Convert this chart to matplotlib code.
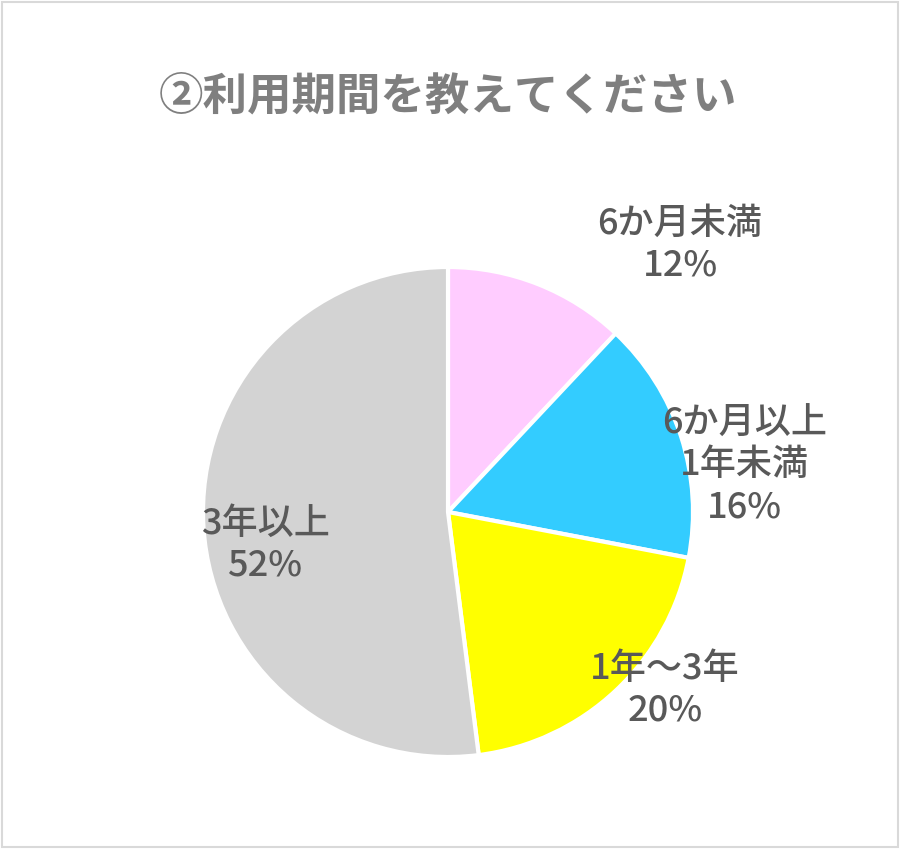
import matplotlib
matplotlib.use("Agg")
import matplotlib.pyplot as plt
from matplotlib.patches import Rectangle

plt.rcParams['font.family'] = ['Noto Sans CJK JP', 'DejaVu Sans']

categories = ["6か月未満", "6か月以上\n1年未満", "1年～3年", "3年以上"]
values = [12, 16, 20, 52]
colors = ["#FFCCFF", "#33CCFF", "#FFFF00", "#D3D3D3"]
title = "②利用期間を教えてください"

W, H = 900, 849
cx, cy, R = 448, 512, 245
fig = plt.figure(figsize=(W/100, H/100), dpi=100)
ax = fig.add_axes([0, 0, 1, 1])

ax.pie(values, colors=colors, startangle=90, counterclock=False, radius=1,
       wedgeprops=dict(edgecolor='white', linewidth=3), frame=True)
ax.set_xlim(-cx/R, (W-cx)/R)
ax.set_ylim(-(H-cy)/R, cy/R)
ax.set_aspect('auto')
ax.axis('off')

label_pos = [(0.947, 1.09), (1.21, 0.19), (0.886, -0.727), (-0.747, -0.135)]
for cat, v, (x, y) in zip(categories, values, label_pos):
    ax.text(x, y, f"{cat}\n{v}%", ha='center', va='center', fontsize=26,
            fontweight='medium', color='#595959', linespacing=1.2)

fig.text(cx/W, 1-97/H, title, ha='center', va='center', fontsize=32,
         fontweight='bold', color='#7F7F7F')
fig.patches.append(Rectangle((0.002, 0.002), 0.996, 0.996, transform=fig.transFigure,
                             fill=False, edgecolor='#D9D9D9', linewidth=1.5))
fig.savefig("out.png", dpi=100, facecolor='white')
